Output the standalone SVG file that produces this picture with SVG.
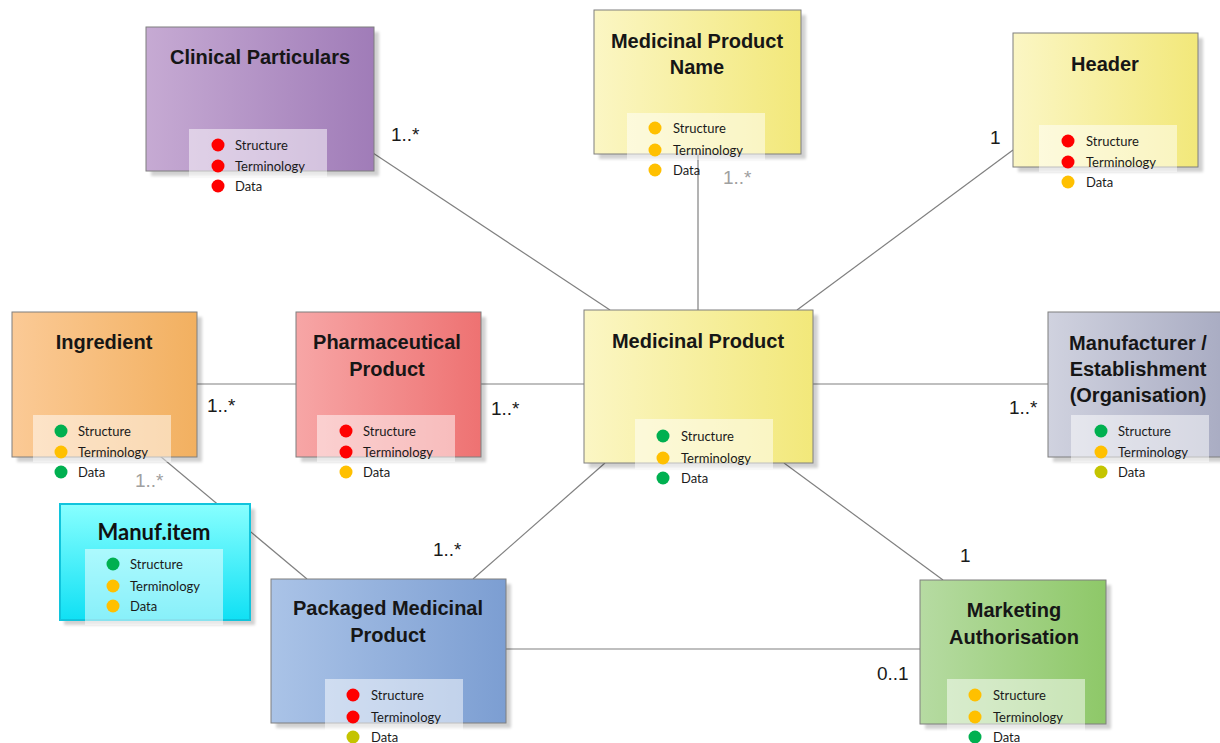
<svg xmlns="http://www.w3.org/2000/svg" width="1220" height="743" viewBox="0 0 1220 743">
<style>
.box{stroke:#7f7f7f;stroke-width:1}
.sh{fill:#000;opacity:0.18;filter:url(#blur)}
.title{font-family:"Liberation Sans",Arial,sans-serif;font-weight:bold;font-size:20px;fill:#161616;text-anchor:middle}
.leg{fill:#fff;opacity:0.5}
.lt{font-family:Lato,"Noto Sans",sans-serif;font-size:13px;fill:#1a1a1a}
.mult{font-family:"Liberation Sans",Arial,sans-serif;font-size:19px;fill:#1a1a1a}
.grey{fill:#a0a0a0}
.conn line{stroke:#808080;stroke-width:1.2}
.r{fill:#ff0000}.o{fill:#ffc000}.g{fill:#00b050}.y{fill:#c4c400}
</style>
<defs>
<filter id="blur" x="-10%" y="-10%" width="120%" height="120%"><feGaussianBlur stdDeviation="1.5"/></filter>
<linearGradient id="gPurple" x1="0" x2="1" y1="0" y2="0"><stop offset="0" stop-color="#c6aad3"/><stop offset="1" stop-color="#a07cb8"/></linearGradient>
<linearGradient id="gYellow" x1="0" x2="1" y1="0" y2="0"><stop offset="0" stop-color="#fbf6c4"/><stop offset="1" stop-color="#f2e87a"/></linearGradient>
<linearGradient id="gOrange" x1="0" x2="1" y1="0" y2="0"><stop offset="0" stop-color="#fbca96"/><stop offset="1" stop-color="#f2b060"/></linearGradient>
<linearGradient id="gRed" x1="0" x2="1" y1="0" y2="0"><stop offset="0" stop-color="#f7a6a6"/><stop offset="1" stop-color="#ee7272"/></linearGradient>
<linearGradient id="gGrey" x1="0" x2="1" y1="0" y2="0"><stop offset="0" stop-color="#d0d2df"/><stop offset="1" stop-color="#a8abc2"/></linearGradient>
<linearGradient id="gBlue" x1="0" x2="1" y1="0" y2="0"><stop offset="0" stop-color="#aac3e7"/><stop offset="1" stop-color="#7c9ed2"/></linearGradient>
<linearGradient id="gGreen" x1="0" x2="1" y1="0" y2="0"><stop offset="0" stop-color="#b6dba2"/><stop offset="1" stop-color="#8ec868"/></linearGradient>
<linearGradient id="gCyan" x1="0" x2="0" y1="0" y2="1"><stop offset="0" stop-color="#88ffff"/><stop offset="1" stop-color="#10e0f4"/></linearGradient>
</defs>
<rect width="1220" height="743" fill="#fff"/>

<g id="connectors" class="conn">
<line x1="373" y1="153" x2="610" y2="310"/>
<line x1="698" y1="154" x2="698" y2="310"/>
<line x1="1013" y1="150" x2="797" y2="310"/>
<line x1="197" y1="384" x2="296" y2="384"/>
<line x1="481" y1="384" x2="584" y2="384"/>
<line x1="813" y1="384" x2="1048" y2="384"/>
<line x1="160" y1="456" x2="307" y2="579"/>
<line x1="605" y1="463" x2="473" y2="579"/>
<line x1="784" y1="463" x2="943" y2="580"/>
<line x1="506" y1="649" x2="920" y2="649"/>
</g>

<g id="multiplicities">
<text class="mult" x="391" y="141">1..*</text>
<text class="mult grey" x="723" y="184">1..*</text>
<text class="mult" x="990" y="144">1</text>
<text class="mult" x="207" y="412">1..*</text>
<text class="mult grey" x="135" y="487">1..*</text>
<text class="mult" x="491" y="415">1..*</text>
<text class="mult" x="1009" y="414">1..*</text>
<text class="mult" x="433" y="556">1..*</text>
<text class="mult" x="960" y="562">1</text>
<text class="mult" x="877" y="680">0..1</text>
</g>

<g id="clinical-particulars">
<rect class="sh" x="151" y="32" width="228" height="144"/>
<rect class="box" x="146" y="27" width="228" height="144" fill="url(#gPurple)"/>
<text class="title" x="260" y="64">Clinical Particulars</text>
<rect class="leg" x="189" y="129" width="138" height="48"/>
<circle class="r" cx="218" cy="145" r="6.5"/><text class="lt" x="235" y="149.5">Structure</text>
<circle class="r" cx="218" cy="166" r="6.5"/><text class="lt" x="235" y="170.5">Terminology</text>
<circle class="r" cx="218" cy="186" r="6.5"/><text class="lt" x="235" y="190.5">Data</text>
</g>

<g id="medicinal-product-name">
<rect class="sh" x="599" y="15" width="207" height="144"/>
<rect class="box" x="594" y="10" width="207" height="144" fill="url(#gYellow)"/>
<text class="title" x="697" y="48">Medicinal Product</text>
<text class="title" x="697" y="74">Name</text>
<rect class="leg" x="627" y="113" width="138" height="47"/>
<circle class="o" cx="655" cy="128" r="6.5"/><text class="lt" x="673" y="132.5">Structure</text>
<circle class="o" cx="655" cy="150" r="6.5"/><text class="lt" x="673" y="154.5">Terminology</text>
<circle class="o" cx="655" cy="170" r="6.5"/><text class="lt" x="673" y="174.5">Data</text>
</g>

<g id="header">
<rect class="sh" x="1018" y="38" width="185" height="134"/>
<rect class="box" x="1013" y="33" width="185" height="134" fill="url(#gYellow)"/>
<text class="title" x="1105" y="71">Header</text>
<rect class="leg" x="1039" y="125" width="138" height="47"/>
<circle class="r" cx="1068" cy="141" r="6.5"/><text class="lt" x="1086" y="145.5">Structure</text>
<circle class="r" cx="1068" cy="162" r="6.5"/><text class="lt" x="1086" y="166.5">Terminology</text>
<circle class="o" cx="1068" cy="182" r="6.5"/><text class="lt" x="1086" y="186.5">Data</text>
</g>

<g id="ingredient">
<rect class="sh" x="17" y="317" width="185" height="145"/>
<rect class="box" x="12" y="312" width="185" height="145" fill="url(#gOrange)"/>
<text class="title" x="104" y="349">Ingredient</text>
<rect class="leg" x="33" y="415" width="138" height="47"/>
<circle class="g" cx="61" cy="431" r="6.5"/><text class="lt" x="78" y="435.5">Structure</text>
<circle class="o" cx="61" cy="452" r="6.5"/><text class="lt" x="78" y="456.5">Terminology</text>
<circle class="g" cx="61" cy="472" r="6.5"/><text class="lt" x="78" y="476.5">Data</text>
</g>

<g id="manuf-item">
<rect class="sh" x="64" y="509" width="191" height="116"/>
<rect x="60" y="504" width="190" height="116" fill="url(#gCyan)" stroke="#10c4dc" stroke-width="2"/>
<text x="154" y="540" text-anchor="middle" font-family="Lato,'Noto Sans',sans-serif" font-weight="bold" font-size="22" fill="#111">Manuf.item</text>
<rect class="leg" x="85" y="549" width="138" height="76"/>
<circle class="g" cx="113" cy="564" r="6.5"/><text class="lt" x="130" y="568.5">Structure</text>
<circle class="o" cx="113" cy="586" r="6.5"/><text class="lt" x="130" y="590.5">Terminology</text>
<circle class="o" cx="113" cy="606" r="6.5"/><text class="lt" x="130" y="610.5">Data</text>
</g>

<g id="pharmaceutical-product">
<rect class="sh" x="301" y="317" width="185" height="145"/>
<rect class="box" x="296" y="312" width="185" height="145" fill="url(#gRed)"/>
<text class="title" x="387" y="349">Pharmaceutical</text>
<text class="title" x="387" y="376">Product</text>
<rect class="leg" x="317" y="415" width="138" height="47"/>
<circle class="r" cx="346" cy="431" r="6.5"/><text class="lt" x="363" y="435.5">Structure</text>
<circle class="r" cx="346" cy="452" r="6.5"/><text class="lt" x="363" y="456.5">Terminology</text>
<circle class="o" cx="346" cy="472" r="6.5"/><text class="lt" x="363" y="476.5">Data</text>
</g>

<g id="medicinal-product">
<rect class="sh" x="589" y="315" width="229" height="153"/>
<rect class="box" x="584" y="310" width="229" height="153" fill="url(#gYellow)"/>
<text class="title" x="698" y="348">Medicinal Product</text>
<rect class="leg" x="635" y="419" width="138" height="50"/>
<circle class="g" cx="663" cy="436" r="6.5"/><text class="lt" x="681" y="440.5">Structure</text>
<circle class="o" cx="663" cy="458" r="6.5"/><text class="lt" x="681" y="462.5">Terminology</text>
<circle class="g" cx="663" cy="478" r="6.5"/><text class="lt" x="681" y="482.5">Data</text>
</g>

<g id="manufacturer">
<rect class="sh" x="1053" y="317" width="180" height="145"/>
<rect class="box" x="1048" y="312" width="180" height="145" fill="url(#gGrey)"/>
<text class="title" x="1138" y="350">Manufacturer /</text>
<text class="title" x="1138" y="376">Establishment</text>
<text class="title" x="1138" y="402">(Organisation)</text>
<rect class="leg" x="1071" y="415" width="138" height="47"/>
<circle class="g" cx="1101" cy="431" r="6.5"/><text class="lt" x="1118" y="435.5">Structure</text>
<circle class="o" cx="1101" cy="452" r="6.5"/><text class="lt" x="1118" y="456.5">Terminology</text>
<circle class="y" cx="1101" cy="472" r="6.5"/><text class="lt" x="1118" y="476.5">Data</text>
</g>

<g id="packaged-medicinal-product">
<rect class="sh" x="276" y="584" width="235" height="144"/>
<rect class="box" x="271" y="579" width="235" height="144" fill="url(#gBlue)"/>
<text class="title" x="388" y="615">Packaged Medicinal</text>
<text class="title" x="388" y="642">Product</text>
<rect class="leg" x="325" y="679" width="138" height="64"/>
<circle class="r" cx="353" cy="695" r="6.5"/><text class="lt" x="371" y="699.5">Structure</text>
<circle class="r" cx="353" cy="717" r="6.5"/><text class="lt" x="371" y="721.5">Terminology</text>
<circle class="y" cx="353" cy="737" r="6.5"/><text class="lt" x="371" y="741.5">Data</text>
</g>

<g id="marketing-authorisation">
<rect class="sh" x="925" y="585" width="186" height="144"/>
<rect class="box" x="920" y="580" width="186" height="144" fill="url(#gGreen)"/>
<text class="title" x="1014" y="617">Marketing</text>
<text class="title" x="1014" y="644">Authorisation</text>
<rect class="leg" x="947" y="679" width="138" height="64"/>
<circle class="o" cx="975" cy="695" r="6.5"/><text class="lt" x="993" y="699.5">Structure</text>
<circle class="o" cx="975" cy="717" r="6.5"/><text class="lt" x="993" y="721.5">Terminology</text>
<circle class="g" cx="975" cy="737" r="6.5"/><text class="lt" x="993" y="741.5">Data</text>
</g>
</svg>
